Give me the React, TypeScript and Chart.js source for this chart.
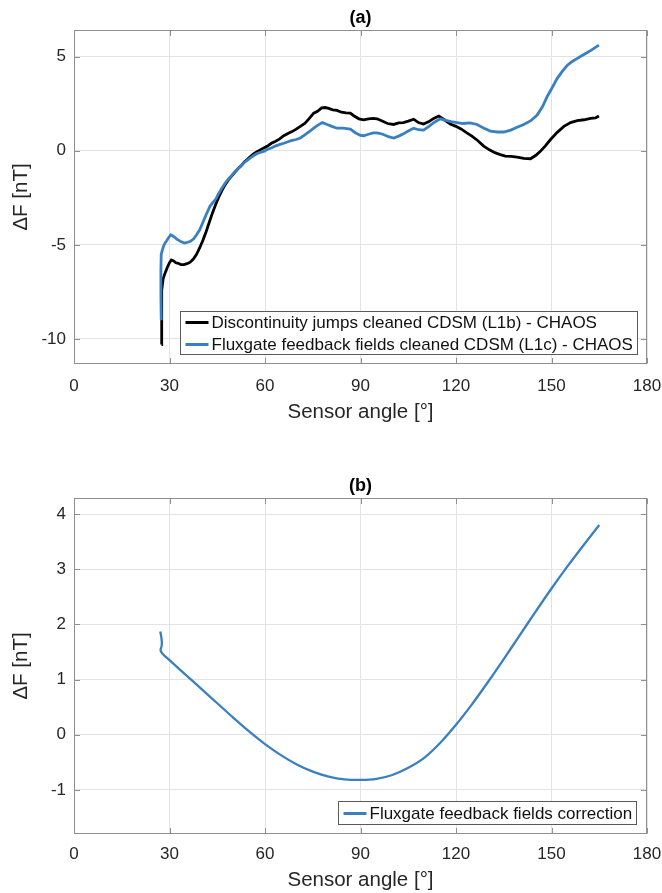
import React, { useEffect, useRef } from "react";
import { Chart, registerables } from "chart.js";
Chart.register(...registerables);

const FONT = '"Liberation Sans", Arial, Helvetica, sans-serif';
const TEXT = "#262626";
const GRID = "#e3e3e3";
const BOX = "#8f8f8f";
const BLUE = "#3a80c0";
const BLACK = "#000000";

// ---------- tick labels ----------
const xTicks = [0, 30, 60, 90, 120, 150, 180];
const yTicksA = [-10, -5, 0, 5];
const yTicksB = [-1, 0, 1, 2, 3, 4];

// ---------- panel (a): L1b - CHAOS ----------
const angleL1b = [
  27.5, 27.5, 27.6, 28.0, 28.6, 29.3, 30.0, 30.6, 31.3, 32.0, 32.8, 33.6, 34.5, 35.5, 36.5, 37.5,
  38.5, 39.5, 40.5, 41.5, 42.5, 43.5, 44.5, 45.5, 46.5, 47.5, 48.5, 49.5, 50.5, 51.5, 52.5, 53.5,
  54.5, 55.4, 56.5, 57.5, 58.5, 59.6, 60.8, 62.0, 63.2, 64.5, 65.9, 67.2, 68.5, 69.8, 71.1, 72.5,
  73.8, 75.3, 76.5, 77.8, 78.9, 80.0, 81.3, 82.6, 84.0, 85.5, 86.8, 88.0, 89.5, 91.0, 92.5, 94.0,
  95.2, 96.8, 98.5, 100.4, 102.0, 103.5, 105.0, 106.7, 108.2, 109.8, 111.5, 113.0, 114.6, 116.3,
  118.2, 120.0, 121.7, 123.4, 125.0, 126.8, 128.7, 130.5, 132.2, 133.9, 135.5, 137.3, 139.2,
  141.3, 143.4, 145.0, 146.5, 148.0, 149.7, 151.8, 153.9, 156.0, 158.1, 160.2, 162.3, 163.8, 164.9,
];
const dFL1b = [
  -10.3, -8.6, -7.4, -6.8, -6.5, -6.2, -5.95, -5.8, -5.85, -5.95, -5.98, -6.05, -6.05, -6.0, -5.92, -5.75,
  -5.5, -5.15, -4.75, -4.3, -3.8, -3.3, -2.85, -2.45, -2.1, -1.8, -1.55, -1.35, -1.15, -0.95, -0.8, -0.6,
  -0.45, -0.3, -0.15, -0.05, 0.05, 0.15, 0.25, 0.4, 0.5, 0.62, 0.8, 0.92, 1.02, 1.15, 1.3, 1.45,
  1.7, 2.0, 2.1, 2.28, 2.3, 2.25, 2.18, 2.15, 2.05, 2.02, 2.0, 1.85, 1.7, 1.65, 1.7, 1.72,
  1.7, 1.58, 1.45, 1.4, 1.48, 1.5, 1.58, 1.68, 1.5, 1.42, 1.55, 1.72, 1.85, 1.65,
  1.42, 1.3, 1.15, 0.95, 0.78, 0.55, 0.25, 0.05, -0.1, -0.2, -0.28, -0.3, -0.33,
  -0.4, -0.42, -0.25, -0.03, 0.25, 0.6, 0.98, 1.3, 1.5, 1.6, 1.65, 1.72, 1.75, 1.85,
];

// ---------- panel (a): L1c - CHAOS ----------
const angleL1c = [
  27.4, 27.3, 27.3, 27.4, 27.8, 28.1, 28.6, 29.0, 29.7, 30.4, 31.3, 32.3, 33.5, 34.7, 35.7, 36.6,
  37.6, 38.5, 39.5, 40.4, 41.5, 42.7, 43.6, 44.6, 45.5, 46.5, 47.5, 48.5, 49.5, 50.5, 51.5, 52.5,
  53.5, 54.5, 55.4, 56.5, 57.5, 58.5, 59.6, 60.8, 62.0, 63.2, 64.5, 65.9, 67.2, 68.5, 69.8, 71.1,
  72.5, 73.8, 75.3, 76.5, 78.0, 79.5, 81.0, 82.6, 84.5, 86.8, 88.5, 90.0, 91.0, 92.5, 94.0, 95.2,
  97.0, 98.8, 100.4, 102.0, 103.5, 105.0, 106.7, 108.2, 109.8, 111.5, 113.2, 115.1, 116.8, 118.5,
  120.3, 122.2, 124.4, 126.6, 128.8, 130.8, 133.0, 135.0, 137.2, 139.2, 141.3, 143.5, 145.5,
  147.2, 148.7, 150.2, 151.8, 153.5, 155.0, 156.5, 158.0, 159.5, 161.0, 162.5, 163.8, 164.9,
];
const dFL1c = [
  -9.0, -7.6, -6.3, -5.5, -5.25, -5.08, -4.9, -4.81, -4.62, -4.46, -4.55, -4.69, -4.82, -4.9, -4.86, -4.81,
  -4.68, -4.46, -4.2, -3.84, -3.4, -2.95, -2.75, -2.55, -2.25, -1.98, -1.72, -1.5, -1.32, -1.12, -0.95, -0.78,
  -0.62, -0.5, -0.38, -0.25, -0.15, -0.08, -0.03, 0.08, 0.15, 0.25, 0.33, 0.4, 0.48, 0.55, 0.6, 0.68,
  0.85, 1.0, 1.2, 1.35, 1.5, 1.4, 1.3, 1.2, 1.2, 1.15, 0.95, 0.82, 0.8, 0.88, 0.95, 0.95,
  0.88, 0.75, 0.68, 0.78, 0.9, 1.05, 1.2, 1.12, 1.1, 1.3, 1.52, 1.7, 1.62, 1.55,
  1.5, 1.45, 1.48, 1.4, 1.2, 1.05, 1.0, 1.0, 1.1, 1.25, 1.4, 1.6, 1.9,
  2.35, 2.9, 3.35, 3.85, 4.25, 4.55, 4.75, 4.9, 5.05, 5.2, 5.35, 5.5, 5.62,
];

// ---------- panel (b): correction ----------
const angleCorr = [
  27.1, 27.4, 27.6, 27.5, 27.2, 27.4, 28.1, 30, 35, 40, 45, 50, 55, 60, 65, 70, 75, 80, 85, 90,
  95, 100, 105, 110, 115, 120, 125, 130, 135, 140, 145, 150, 155, 160, 165,
];
const dFCorr = [
  1.87, 1.78, 1.67, 1.6, 1.54, 1.5, 1.45, 1.35, 1.09, 0.83, 0.57, 0.31, 0.06, -0.17, -0.37, -0.54,
  -0.67, -0.76, -0.81, -0.82, -0.8, -0.73, -0.6, -0.42, -0.15, 0.18, 0.55, 0.95, 1.37, 1.8, 2.23,
  2.65, 3.05, 3.43, 3.8,
];

const labelL1b = "Discontinuity jumps cleaned CDSM (L1b) - CHAOS";
const labelL1c = "Fluxgate feedback fields cleaned CDSM (L1c) - CHAOS";
const labelCorr = "Fluxgate feedback fields correction";

const xy = (xs: number[], ys: number[]) => xs.map((x, i) => ({ x, y: ys[i] }));

type LegendItem = { label: string; color: string };

function makePlugins(title: string, items: LegendItem[], rowH: number, offR: number, offB: number) {
  return [
    {
      id: "frameTitle",
      afterDatasetsDraw(chart: any) {
        const { ctx, chartArea: a, scales } = chart;
        ctx.save();
        ctx.strokeStyle = BOX;
        ctx.lineWidth = 1;
        const L = Math.round(a.left) + 0.5;
        const R = Math.round(a.right) - 0.5;
        const T = Math.round(a.top) + 0.5;
        const B = Math.round(a.bottom) - 0.5;
        ctx.strokeRect(L, T, R - L, B - T);
        const tl = 5.5;
        ctx.beginPath();
        scales.x.ticks.forEach((t: any) => {
          const px = Math.round(scales.x.getPixelForValue(t.value)) + 0.5;
          ctx.moveTo(px, B);
          ctx.lineTo(px, B - tl);
          ctx.moveTo(px, T);
          ctx.lineTo(px, T + tl);
        });
        scales.y.ticks.forEach((t: any) => {
          const py = Math.round(scales.y.getPixelForValue(t.value)) + 0.5;
          ctx.moveTo(L, py);
          ctx.lineTo(L + tl, py);
          ctx.moveTo(R, py);
          ctx.lineTo(R - tl, py);
        });
        ctx.stroke();
        ctx.fillStyle = "#000";
        ctx.font = `bold 18px ${FONT}`;
        ctx.textAlign = "center";
        ctx.textBaseline = "middle";
        ctx.fillText(title, (a.left + a.right) / 2, a.top - 11.5);
        ctx.restore();
      },
    },
    {
      id: "boxLegend",
      afterDraw(chart: any) {
        const { ctx, chartArea: a } = chart;
        ctx.save();
        ctx.font = `17px ${FONT}`;
        const tw = Math.max(...items.map((i) => ctx.measureText(i.label).width));
        const padL = 5, lineLen = 23, gap = 3, padR = 5;
        const w = padL + lineLen + gap + tw + padR;
        const h = items.length * rowH;
        const right = Math.round(a.right - offR) + 0.5;
        const bottom = Math.round(a.bottom - offB) + 0.5;
        const left = Math.round(right - w) + 0.5;
        const top = Math.round(bottom - h) + 0.5;
        ctx.fillStyle = "#fff";
        ctx.fillRect(left, top, right - left, bottom - top);
        ctx.strokeStyle = "#5a5a5a";
        ctx.lineWidth = 1;
        ctx.strokeRect(left, top, right - left, bottom - top);
        items.forEach((it, i) => {
          const cy = top + rowH * (i + 0.5);
          ctx.strokeStyle = it.color;
          ctx.lineWidth = 3;
          ctx.beginPath();
          ctx.moveTo(left + padL, cy);
          ctx.lineTo(left + padL + lineLen, cy);
          ctx.stroke();
          ctx.fillStyle = "#111";
          ctx.textAlign = "left";
          ctx.textBaseline = "middle";
          ctx.fillText(it.label, left + padL + lineLen + gap, cy + 0.5);
        });
        ctx.restore();
      },
    },
  ];
}

function makeConfig(opts: {
  datasets: any[];
  yMin: number;
  yMax: number;
  yTicks: number[];
  padTop: number;
  xAxisH: number;
  tickPad: number;
  titlePadB: number;
  plugins: any[];
}) {
  return {
    type: "scatter" as const,
    data: { datasets: opts.datasets },
    plugins: opts.plugins,
    options: {
      responsive: false,
      animation: false as const,
      devicePixelRatio: 1,
      events: [],
      layout: { padding: { left: 0, right: 15, top: opts.padTop, bottom: 0 } },
      plugins: { legend: { display: false }, tooltip: { enabled: false }, title: { display: false } },
      scales: {
        x: {
          type: "linear" as const,
          min: 0,
          max: 180,
          afterBuildTicks: (s: any) => {
            s.ticks = xTicks.map((v) => ({ value: v }));
          },
          afterFit: (s: any) => {
            s.height = opts.xAxisH;
            s.paddingLeft = 0;
            s.paddingRight = 0;
          },
          grid: { color: GRID, drawTicks: false, lineWidth: 1 },
          border: { display: false },
          ticks: {
            color: TEXT,
            font: { family: FONT, size: 17 },
            padding: opts.tickPad,
            maxRotation: 0,
            callback: (v: any) => String(v),
          },
          title: {
            display: true,
            text: "Sensor angle [°]",
            color: TEXT,
            font: { family: FONT, size: 20.5 },
            padding: { top: 0, bottom: opts.titlePadB },
          },
        },
        y: {
          type: "linear" as const,
          min: opts.yMin,
          max: opts.yMax,
          afterBuildTicks: (s: any) => {
            s.ticks = opts.yTicks.map((v) => ({ value: v }));
          },
          afterFit: (s: any) => {
            s.width = 74;
            s.paddingTop = 0;
            s.paddingBottom = 0;
          },
          grid: { color: GRID, drawTicks: false, lineWidth: 1 },
          border: { display: false },
          ticks: {
            color: TEXT,
            font: { family: FONT, size: 17 },
            padding: 8,
            callback: (v: any) => String(v),
          },
          title: {
            display: true,
            text: "ΔF [nT]",
            color: TEXT,
            font: { family: FONT, size: 20.5 },
            padding: { top: 9.5, bottom: 0 },
          },
        },
      },
    },
  };
}

export default function App() {
  const r1 = useRef<HTMLCanvasElement>(null);
  const r2 = useRef<HTMLCanvasElement>(null);

  useEffect(() => {
    const c1 = new Chart(
      r1.current as HTMLCanvasElement,
      makeConfig({
        datasets: [
          {
            label: labelL1c,
            data: xy(angleL1c, dFL1c),
            showLine: true,
            borderColor: BLUE,
            backgroundColor: BLUE,
            borderWidth: 2.8,
            pointRadius: 0,
            tension: 0,
            order: 1,
          },
          {
            label: labelL1b,
            data: xy(angleL1b, dFL1b),
            showLine: true,
            borderColor: BLACK,
            backgroundColor: BLACK,
            borderWidth: 2.8,
            pointRadius: 0,
            tension: 0,
            order: 2,
          },
        ],
        yMin: -11.33,
        yMax: 6.42,
        yTicks: yTicksA,
        padTop: 30,
        xAxisH: 81,
        tickPad: 12,
        titlePadB: 20.5,
        plugins: makePlugins(
          "(a)",
          [
            { label: labelL1b, color: BLACK },
            { label: labelL1c, color: BLUE },
          ],
          22,
          10,
          10
        ),
      }) as any
    );
    const c2 = new Chart(
      r2.current as HTMLCanvasElement,
      makeConfig({
        datasets: [
          {
            label: labelCorr,
            data: xy(angleCorr, dFCorr),
            showLine: true,
            borderColor: BLUE,
            backgroundColor: BLUE,
            borderWidth: 2.3,
            pointRadius: 0,
            tension: 0.3,
          },
        ],
        yMin: -1.8,
        yMax: 4.29,
        yTicks: yTicksB,
        padTop: 53,
        xAxisH: 59,
        tickPad: 10,
        titlePadB: 0.5,
        plugins: makePlugins("(b)", [{ label: labelCorr, color: BLUE }], 24, 11, 10),
      }) as any
    );
    return () => {
      c1.destroy();
      c2.destroy();
    };
  }, []);

  return (
    <div style={{ position: "fixed", left: 0, top: 0, width: 662, height: 893, background: "#fff" }}>
      <canvas ref={r1} width={662} height={445} style={{ position: "absolute", left: 0, top: 0, display: "block" }} />
      <canvas ref={r2} width={662} height={448} style={{ position: "absolute", left: 0, top: 445, display: "block" }} />
    </div>
  );
}
